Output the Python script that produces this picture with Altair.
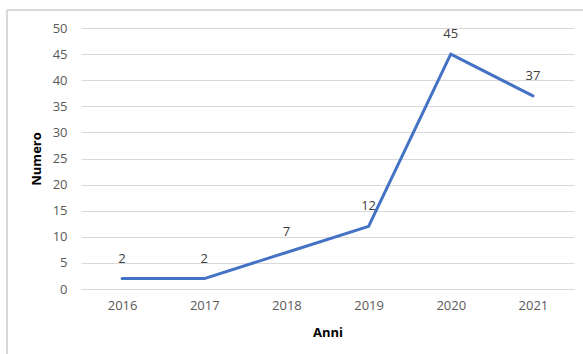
import altair as alt
import pandas as pd

anni = ["2016", "2017", "2018", "2019", "2020", "2021"]
numero = [2, 2, 7, 12, 45, 37]

df = pd.DataFrame({"Anni": anni, "Numero": numero})

FONT = "Open Sans"
W, H = 493, 261

x_enc = alt.X(
    "Anni:O",
    sort=anni,
    scale=alt.Scale(type="point", padding=0.5),
    axis=alt.Axis(
        title="Anni",
        labelAngle=0,
        labelPadding=10,
        ticks=False,
        domain=True,
        domainColor="#d9d9d9",
        titlePadding=14,
        labelFont=FONT,
        labelFontSize=13,
        labelColor="#595959",
        titleFont=FONT,
        titleFontSize=13,
        titleFontWeight="bold",
        titleColor="#000000",
    ),
)
y_enc = alt.Y(
    "Numero:Q",
    scale=alt.Scale(domain=[0, 50], nice=False),
    axis=alt.Axis(
        title="Numero",
        values=list(range(0, 55, 5)),
        ticks=False,
        domain=False,
        labelPadding=14,
        titlePadding=9,
        gridColor="#d9d9d9",
        gridWidth=1,
        labelOverlap=False,
        labelFont=FONT,
        labelFontSize=13,
        labelColor="#595959",
        titleFont=FONT,
        titleFontSize=13,
        titleFontWeight="bold",
        titleColor="#000000",
    ),
)

base = alt.Chart(df)

line = base.mark_line(
    color="#4472C4", strokeWidth=3, strokeJoin="round", strokeCap="round"
).encode(x=x_enc, y=y_enc)

labels = base.mark_text(
    font=FONT, fontSize=13, color="#404040", baseline="middle", dy=-20
).encode(x=x_enc, y=y_enc, text="Numero:Q")

# light frame around the chart (top and left edges visible)
frame_top = base.mark_rule(color="#d9d9d9", strokeWidth=1).encode(
    x=alt.value(-74), x2=alt.value(W + 20), y=alt.value(-18)
)
frame_left = base.mark_rule(color="#d9d9d9", strokeWidth=1).encode(
    x=alt.value(-74), y=alt.value(-18), y2=alt.value(H + 80)
)

chart = (
    alt.layer(line, labels, frame_top, frame_left)
    .properties(
        width=W,
        height=H,
        autosize=alt.AutoSizeParams(type="none"),
        padding={"left": 81, "top": 28, "right": 9, "bottom": 65},
        background="white",
    )
    .configure_view(stroke=None)
)

chart.save("out.html", embed_options={"renderer": "svg", "actions": False})
